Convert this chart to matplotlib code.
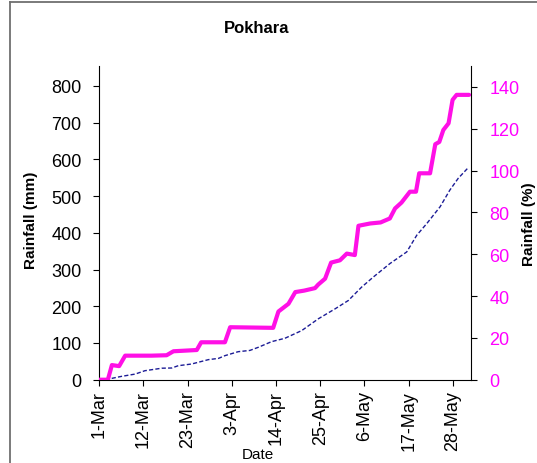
import matplotlib
matplotlib.use("Agg")
import matplotlib.pyplot as plt
from matplotlib.lines import Line2D

plt.rcParams["font.family"] = ["Liberation Sans", "DejaVu Sans"]

# ── data (days after 1-Mar, cumulative rainfall in % of normal) ──────────────
year_days = [0, 2.2, 3.2, 5.0, 6.5, 13, 16.8, 18.5, 24.3, 25.4, 31.3, 32.6,
             43.3, 44.6, 47.1, 48.8, 51, 53.7, 54.5, 56.2, 57.7, 59.9, 61.6,
             63.6, 64.5, 67.4, 70, 72.3, 73.6, 75.2, 77.3, 78.8, 79.6, 82.3,
             83.6, 84.6, 85.6, 86.9, 87.9, 88.9, 92]
year_pct = [0, 0, 7.0, 6.5, 11.5, 11.5, 11.7, 13.6, 14.2, 17.9, 17.9, 25.1,
            24.8, 32.6, 36.3, 41.9, 42.6, 43.8, 45.5, 48.3, 56.0, 57.1, 60.3,
            59.6, 73.6, 74.7, 75.2, 77.1, 81.9, 84.7, 89.9, 89.9, 98.7, 98.7,
            112.6, 113.7, 119.4, 122.6, 133.8, 136.2, 136.2]

normal_days = [0, 2.3, 5.6, 9, 11.4, 15.6, 18.1, 19.7, 23, 27.2, 29.7, 31.3,
               34.6, 37.5, 39.6, 42.9, 46.2, 50.4, 54.5, 58.7, 62, 65.3,
               68.2, 72.3, 76.5, 79, 81.5, 84.8, 87.2, 89.3, 91.6]
normal_pct = [0, 0.3, 1.6, 2.7, 4.3, 5.5, 5.6, 6.7, 7.5, 9.6, 10.2, 11.5,
              13.4, 14.0, 15.5, 18.2, 19.8, 23.5, 29.1, 33.9, 37.9, 44.3,
              49.1, 55.5, 61.1, 69.1, 74.7, 82.7, 90.6, 96.3, 101.0]

tick_days = [0, 11, 22, 33, 44, 55, 66, 77, 88]
tick_labels = ["1-Mar", "12-Mar", "23-Mar", "3-Apr", "14-Apr", "25-Apr",
               "6-May", "17-May", "28-May"]
mm_ticks = [0, 100, 200, 300, 400, 500, 600, 700, 800]
pct_ticks = [0, 20, 40, 60, 80, 100, 120, 140]

MAGENTA = "#ff00ff"

fig = plt.figure(figsize=(5.37, 4.64), dpi=100)
ax = fig.add_axes([0.1844, 0.1795, 0.6921, 0.6761])
ax2 = ax.twinx()

ax2.plot(normal_days, normal_pct, color="#1c1c96", lw=1.0,
         linestyle=(0, (3, 1.6)))
ax2.plot(year_days, year_pct, color="#ff10e6", lw=3.0,
         solid_joinstyle="round", solid_capstyle="round")

ax.set_xlim(0, 92.4)
ax.set_ylim(0, 854)
ax2.set_ylim(0, 150)

ax.set_xticks(tick_days)
ax.set_xticklabels(tick_labels, rotation=90, fontsize=13)
ax.set_yticks(mm_ticks)
ax.tick_params(axis="y", labelsize=13, length=4, pad=8.5)
ax.tick_params(axis="x", length=4, pad=3.5)
ax2.set_yticks(pct_ticks)
ax2.tick_params(axis="y", labelsize=13, length=4, pad=9.5, labelcolor=MAGENTA)

for a in (ax, ax2):
    a.spines["top"].set_visible(False)
ax.spines["right"].set_visible(False)
ax2.spines["left"].set_visible(False)
ax2.spines["bottom"].set_visible(False)

ax.set_ylabel("Rainfall (mm)", fontsize=11, fontweight="bold")
ax.yaxis.set_label_coords(-0.163, 0.51)
ax2.set_ylabel("Rainfall (%)", fontsize=11, fontweight="bold")
ax2.yaxis.set_label_coords(1.137, 0.5)
ax.set_xlabel("Date", fontsize=11)
ax.xaxis.set_label_coords(0.428, -0.214)

fig.text(0.478, 0.938, "Pokhara", fontsize=12, fontweight="bold",
         ha="center", va="center")

# chart-area border (only top and left edges fall inside the picture)
fig.add_artist(Line2D([9.7 / 537, 1.0], [1 - 2.7 / 464] * 2,
                      transform=fig.transFigure, color="#707070", lw=1.3))
fig.add_artist(Line2D([9.7 / 537] * 2, [0.0, 1 - 2.7 / 464],
                      transform=fig.transFigure, color="#707070", lw=1.3))

fig.savefig("out.png", dpi=100)
